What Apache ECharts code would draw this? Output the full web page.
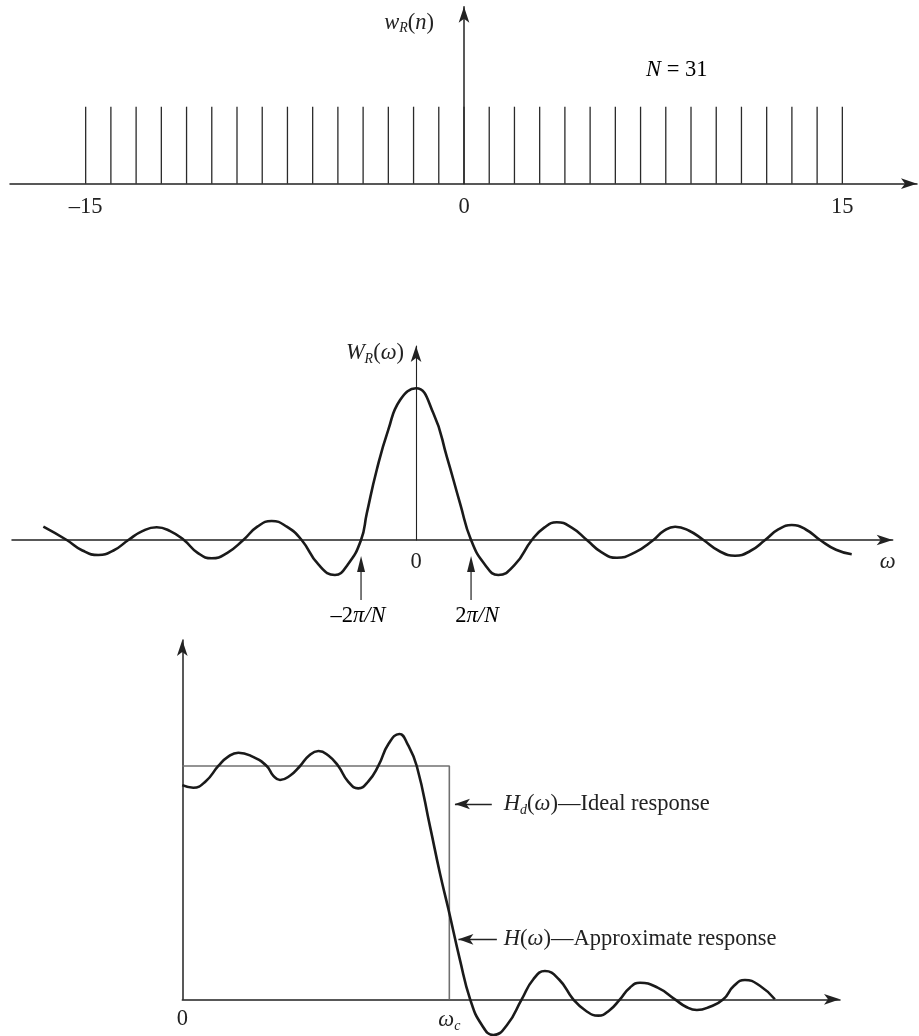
<!DOCTYPE html>
<html><head><meta charset="utf-8">
<script src="https://cdn.jsdelivr.net/npm/echarts@6/dist/echarts.min.js"></script>
<style>html,body{margin:0;padding:0;background:#fff}#c{width:919px;height:1036px}</style>
</head><body><div id="c"></div>
<script>
// ---------- data ----------
// Panel 1: rectangular window w_R(n), N = 31
const topN   = [-15,-14,-13,-12,-11,-10,-9,-8,-7,-6,-5,-4,-3,-2,-1,0,1,2,3,4,5,6,7,8,9,10,11,12,13,14,15];
const topVal = [1,1,1,1,1,1,1,1,1,1,1,1,1,1,1,1,1,1,1,1,1,1,1,1,1,1,1,1,1,1,1];
const topTickLabels = [-15, 0, 15];

// Panel 2: W_R(omega); omega in units of pi/N
const wOmega = [-13.55,-12.70,-12.13,-11.55,-11.0,-10.46,-9.95,-9.43,-8.94,-8.44,-7.94,-7.43,-6.86,-6.28,-5.77,-5.25,-4.70,-4.16,-3.55,-2.95,-2.48,-2,
                -1.79,-1.43,-1.01,-0.58,0,0.63,1.12,1.6,2,
                2.5,2.99,3.6,4.21,4.66,5.12,5.66,6.21,6.75,7.30,7.96,8.63,9.02,9.42,9.93,10.45,11.02,11.6,12.15,12.69,13.17,13.66,14.17,14.69,15.27,15.84];
const wVal   = [2.72,0,-2.15,-3.07,-2.15,0,1.82,2.6,1.82,0,-2.62,-3.74,-2.62,0,2.72,3.88,2.72,0,-5.0,-7.15,-5.0,0,
                5.45,14.3,22.5,28.6,31,25.9,17.0,7.5,0,
                -5.0,-7.15,-5.0,0,2.53,3.62,2.53,0,-2.53,-3.62,-2.53,0,1.9,2.72,1.9,0,-2.25,-3.21,-2.25,0,2.15,3.07,2.15,0,-2.0,-2.92];
const midTickLabels = [0];
const midArrowAt = [-2, 2];
const midArrowText = ['{rm|\u20132}{it|\u03c0/N}', '{rm|2}{it|\u03c0/N}'];

// Panel 3: H(omega) vs ideal H_d(omega); omega in units of omega_c
const hOmega = [0,0.041,0.088,0.135,0.172,0.210,0.263,0.316,0.341,0.366,0.403,0.441,0.475,0.510,0.547,0.584,0.621,0.659,0.696,0.734,0.773,0.813,0.845,0.878,0.928,0.965,0.996,1.040,1.078,
                1.12,1.165,1.218,1.271,1.314,1.358,1.411,1.464,1.511,1.558,1.598,1.639,1.676,1.714,1.78,1.845,1.886,1.927,1.976,2.026,2.066,2.107,2.163,2.219];
const hVal   = [0.918,0.907,0.935,1.0,1.04,1.057,1.04,1.0,0.958,0.94,0.958,1.0,1.045,1.064,1.045,1.0,0.933,0.904,0.933,1.0,1.096,1.137,1.09,1.0,0.739,0.539,0.389,0.168,0,
                -0.107,-0.153,-0.107,0,0.085,0.121,0.085,0,-0.049,-0.070,-0.049,0,0.05,0.071,0.05,0,-0.032,-0.046,-0.032,0,0.058,0.083,0.058,0];
const idealOmega = [0, 1, 1];
const idealVal   = [1, 1, 0];
const botTickLabels = [0, 1];
const botNotes = ['{it|H}{sub|d}{rm|(}{it|\u03c9}{rm|)\u2014Ideal response}', '{it|H}{rm|(}{it|\u03c9}{rm|)\u2014Approximate response}'];

// ---------- styling ----------
const FONT = 'Liberation Serif';
const FS = 22.5;
const rich = {
  it:  {fontFamily: FONT, fontSize: FS, fontStyle: 'italic', color: '#222'},
  rm:  {fontFamily: FONT, fontSize: FS, fontStyle: 'normal', color: '#222'},
  sub: {fontFamily: FONT, fontSize: 14, fontStyle: 'italic', color: '#222', padding: [12, 0, 0, 0]}
};
const AX = {color: '#222', width: 1.5};
const zip = (a, b) => a.map((v, i) => [v, b[i]]);

function xAx(gi, min, max, labels, fmt, margin, extra) {
  return Object.assign({
    type: 'value', gridIndex: gi, min: min, max: max,
    axisLine: {show: true, onZero: true, symbol: ['none', 'arrow'], symbolSize: [8, 16], lineStyle: AX},
    axisTick: {show: false}, splitLine: {show: false},
    axisLabel: {show: true, customValues: labels, formatter: fmt, margin: margin,
      fontFamily: FONT, fontSize: FS, color: '#222', rich: rich}
  }, extra || {});
}
function yAx(gi, min, max, lw, extra) {
  return Object.assign({
    type: 'value', gridIndex: gi, min: min, max: max,
    axisLine: {show: true, onZero: true, symbol: ['none', 'arrow'], symbolSize: [8, 16], lineStyle: {color: '#222', width: lw}},
    axisTick: {show: false}, splitLine: {show: false}, axisLabel: {show: false}
  }, extra || {});
}

const option = {
  animation: false,
  backgroundColor: '#fff',
  grid: [
    {left: 10, right: 2, top: 6.7, bottom: 1036 - 183.7},
    {left: 12, right: 26.3, top: 346, bottom: 1036 - 540},
    {left: 182.3, right: 79, top: 640, bottom: 36.7}
  ],
  xAxis: [
    xAx(0, -18, 17.96, topTickLabels, v => String(v).replace('-', '\u2013'), 12),
    xAx(1, -14.69, 17.33, midTickLabels, v => String(v), 10.5, {
      name: '{it|\u03c9}', nameLocation: 'end', nameGap: -5,
      nameTextStyle: {rich: rich, align: 'center', verticalAlign: 'middle', padding: [44, 0, 0, 0]}
    }),
    xAx(2, 0, 2.463, botTickLabels, v => v === 0 ? '{rm|0}' : '{it|\u03c9}{sub|c}', 8)
  ],
  yAxis: [
    yAx(0, 0, 2.299, 1.5, {
      name: '{it|w}{sub|R}{rm|(}{it|n}{rm|)}', nameLocation: 'end', nameGap: -16,
      nameTextStyle: {rich: rich, align: 'right', verticalAlign: 'middle', padding: [0, 30, 0, 0]}
    }),
    yAx(1, 0, 39.64, 1.1, {
      name: '{it|W}{sub|R}{rm|(}{it|\u03c9}{rm|)}', nameLocation: 'end', nameGap: -7,
      nameTextStyle: {rich: rich, align: 'right', verticalAlign: 'middle', padding: [0, 12, 0, 0]}
    }),
    yAx(2, 0, 1.540, 1.5)
  ],
  series: [
    {
      type: 'custom', xAxisIndex: 0, yAxisIndex: 0, silent: true,
      data: zip(topN, topVal),
      renderItem: function (params, api) {
        const p0 = api.coord([api.value(0), 0]);
        const p1 = api.coord([api.value(0), api.value(1)]);
        return {type: 'line', shape: {x1: p0[0], y1: p0[1], x2: p1[0], y2: p1[1]},
          style: {stroke: '#2a2a2a', lineWidth: 1.3}};
      }
    },
    {
      type: 'line', xAxisIndex: 1, yAxisIndex: 1, silent: true, clip: false,
      data: zip(wOmega, wVal), smooth: 0.5, showSymbol: false, symbol: 'none',
      lineStyle: {color: '#1a1a1a', width: 2.6}
    },
    {
      type: 'line', xAxisIndex: 2, yAxisIndex: 2, silent: true,
      data: zip(idealOmega, idealVal), showSymbol: false, symbol: 'none',
      lineStyle: {color: '#707070', width: 1.6}
    },
    {
      type: 'line', xAxisIndex: 2, yAxisIndex: 2, silent: true, clip: false,
      data: zip(hOmega, hVal), smooth: 0.5, showSymbol: false, symbol: 'none',
      lineStyle: {color: '#1a1a1a', width: 2.6},
      markLine: {
        silent: true, symbol: ['none', 'arrow'], symbolSize: [8, 15],
        lineStyle: {color: '#222', width: 1.4, type: 'solid'},
        label: {show: true, position: 'start', rich: rich},
        data: [
          [{coord: [1.159, 0.837], label: {distance: 12, formatter: () => botNotes[0]}}, {coord: [1.021, 0.837]}],
          [{coord: [1.178, 0.257], label: {distance: 7, formatter: () => botNotes[1]}}, {coord: [1.034, 0.257]}]
        ]
      }
    }
  ]
};
const chart = echarts.init(document.getElementById('c'), null, {renderer: 'canvas'});
chart.setOption(option);

// annotation arrows under the W_R(omega) axis, placed through the grid's own scales
const g = [];
midArrowAt.forEach((k, i) => {
  const tail = chart.convertToPixel({gridIndex: 1}, [k, -12.26]);
  const tip  = chart.convertToPixel({gridIndex: 1}, [k, -3.27]);
  g.push({type: 'line', silent: true, shape: {x1: tail[0], y1: tail[1], x2: tip[0], y2: tip[1] + 14}, style: {stroke: '#333', lineWidth: 1.3}});
  g.push({type: 'polygon', silent: true, shape: {points: [[tip[0], tip[1]], [tip[0] - 4, tip[1] + 16], [tip[0] + 4, tip[1] + 16]]}, style: {fill: '#222'}});
  g.push({type: 'text', silent: true, x: tail[0] + (i === 0 ? -3 : 6), y: tail[1] + 5,
    style: {text: midArrowText[i], rich: rich, align: 'center', verticalAlign: 'top'}});
});
g.push({type: 'text', silent: true, x: 646, y: 59, style: {text: '{it|N}{rm| = 31}', rich: rich}});
chart.setOption({graphic: g});
</script></body></html>
